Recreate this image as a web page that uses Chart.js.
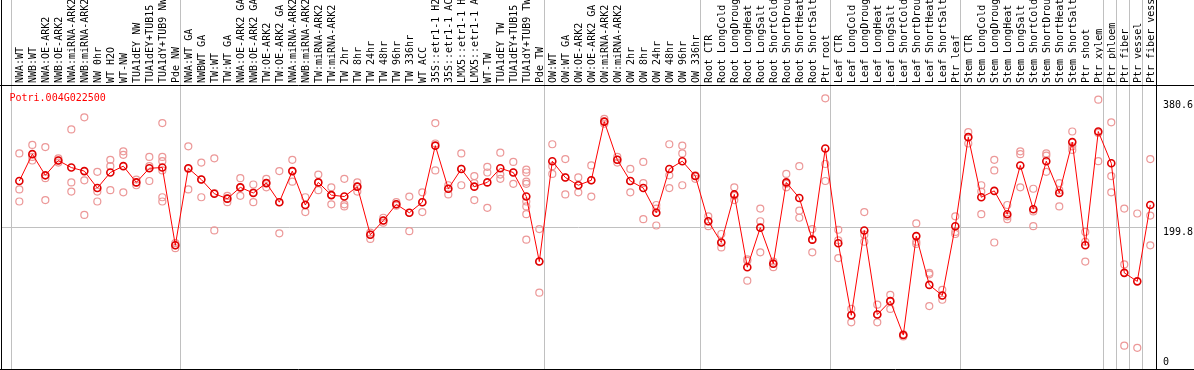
<!DOCTYPE html>
<html>
<head>
<meta charset="utf-8">
<script src="https://cdn.jsdelivr.net/npm/chart.js@4/dist/chart.umd.min.js"></script>
<style>
  html, body { margin: 0; padding: 0; background: #fff; }
  #wrap { width: 1194px; height: 370px; }
</style>
</head>
<body>
<div id="wrap"><canvas id="exprChart" width="1194" height="370"></canvas></div>
<script>
// Datos del gráfico
const geneName = 'Potri.004G022500';

const sampleLabels = [
  'NWA:WT', 'NWB:WT', 'NWA:OE-ARK2', 'NWB:OE-ARK2', 'NWA:miRNA-ARK2', 'NWB:miRNA-ARK2', 'NW 0hr', 'WT H2O', 'WT-NW',
  'TUA1dEY NW', 'TUA1dEY+TUB15', 'TUA1dY+TUB9 NW', 'Pde NW',
  'NWA:WT GA', 'NWBWT GA', 'TW:WT', 'TW:WT GA', 'NWA:OE-ARK2 GA', 'NWB:OE-ARK2 GA', 'TW:OE-ARK2', 'TW:OE-ARK2 GA',
  'NWA:miRNA-ARK2', 'NWB:miRNA-ARK2', 'TW:miRNA-ARK2', 'TW:miRNA-ARK2', 'TW 2hr', 'TW 8hr', 'TW 24hr', 'TW 48hr',
  'TW 96hr', 'TW 336hr', 'WT ACC', '35S::etr1-1 H2O', '35S::etr1-1 ACC', 'LMX5::etr1-1 H2O', 'LMX5::etr1-1 ACC',
  'WT-TW', 'TUA1dEY TW', 'TUA1dEY+TUB15', 'TUA1dY+TUB9 TW', 'Pde TW',
  'OW:WT', 'OW:WT GA', 'OW:OE-ARK2', 'OW:OE-ARK2 GA', 'OW:miRNA-ARK2', 'OW:miRNA-ARK2', 'OW 2hr', 'OW 8hr',
  'OW 24hr', 'OW 48hr', 'OW 96hr', 'OW 336hr',
  'Root CTR', 'Root LongCold', 'Root LongDrought', 'Root LongHeat', 'Root LongSalt', 'Root ShortCold',
  'Root ShortDrought', 'Root ShortHeat', 'Root ShortSalt', 'Ptr root',
  'Leaf CTR', 'Leaf LongCold', 'Leaf LongDrought', 'Leaf LongHeat', 'Leaf LongSalt', 'Leaf ShortCold',
  'Leaf ShortDrought', 'Leaf ShortHeat', 'Leaf ShortSalt', 'Ptr leaf',
  'Stem CTR', 'Stem LongCold', 'Stem LongDrought', 'Stem LongHeat', 'Stem LongSalt', 'Stem ShortCold',
  'Stem ShortDrought', 'Stem ShortHeat', 'Stem ShortSalt', 'Ptr shoot',
  'Ptr xylem', 'Ptr phloem', 'Ptr fiber', 'Ptr vessel', 'Ptr fiber vessel'
];

// Primer índice de cada grupo (líneas grises)
const groupStarts = [0, 13, 41, 53, 63, 73, 84, 85, 86, 87];

// Media por muestra (línea roja)
const meanValues = [
  266, 304, 274, 295, 285, 280, 256, 278, 287, 264, 284, 285, 175,
  284, 268, 248, 241, 257, 249, 263, 236, 280, 232, 264, 246, 244, 258, 190, 210, 233, 221, 236,
  316, 255, 283, 258, 264, 284, 278, 244, 152,
  294, 271, 260, 267, 350, 296, 266, 256, 221, 283, 294, 273,
  209, 179, 247, 144, 200, 149, 264, 242, 183, 312,
  178, 76, 196, 77, 96, 48, 188, 119, 104, 202,
  328, 243, 252, 219, 288, 226, 294, 249, 321, 175,
  336, 291, 136, 124, 232
];

// Réplicas por muestra (círculos rosados)
const replicateValues = [
  [305, 254, 237], [317, 300, 295], [314, 270, 239], [298, 295, 292], [339, 264, 251],
  [356, 267, 218], [279, 251, 237], [296, 287, 253], [308, 303, 250], [268, 264, 260],
  [300, 287, 266], [348, 300, 294, 281, 243, 237], [178, 175, 171],
  [315, 283, 254], [292, 268, 243], [298, 249, 196], [245, 241, 236], [270, 257, 245],
  [261, 250, 236], [269, 263, 257], [280, 236, 192], [296, 280, 265], [243, 232, 222],
  [275, 264, 253], [257, 246, 233], [269, 233, 230], [264, 258, 251], [193, 190, 184],
  [214, 210, 207], [236, 233, 231], [244, 221, 195], [250, 236, 222], [348, 319, 281],
  [260, 255, 247], [305, 283, 260], [273, 263, 239], [286, 278, 228], [306, 275, 269],
  [293, 278, 262], [282, 278, 265, 262, 237, 230, 219, 183], [198, 152, 108],
  [318, 287, 276], [297, 271, 247], [271, 260, 250], [288, 267, 244], [354, 350, 347],
  [300, 296, 292], [283, 266, 250], [293, 263, 212], [232, 227, 203], [318, 274, 256],
  [316, 305, 260], [274, 273, 269],
  [216, 209, 202], [191, 179, 172], [257, 245, 239], [153, 155, 125], [227, 209, 165],
  [152, 149, 144], [276, 262, 257], [287, 224, 214], [198, 183, 165], [383, 290, 266],
  [197, 182, 157], [85, 76, 66], [222, 190, 180], [91, 77, 66], [105, 96, 85],
  [49, 48, 46], [206, 180, 177], [136, 134, 89], [112, 104, 98], [216, 194, 191],
  [335, 328, 319], [260, 251, 219], [296, 281, 179], [232, 216, 212], [308, 304, 257],
  [255, 223, 202], [305, 302, 279], [263, 253, 230], [336, 315, 310], [194, 180, 152],
  [381, 334, 294], [349, 273, 250], [227, 148, 33], [220, 30], [297, 217, 175]
];

const yTickValues = [0, 199.8, 380.6];

const monoFont = { family: 'DejaVu Sans Mono', size: 10 };

// Plugin: marco negro, separadores de grupo y nombre del gen
const framePlugin = {
    id: 'framePlugin',
    beforeDatasetsDraw(chart) {
        const { ctx, chartArea, scales } = chart;
        ctx.save();
        ctx.strokeStyle = '#c0c0c0';
        ctx.lineWidth = 1;
        groupStarts.forEach(function (g) {
            const x = Math.round(scales.x.getPixelForValue(g - 0.64)) + 0.5;
            ctx.beginPath();
            ctx.moveTo(x, 0);
            ctx.lineTo(x, chartArea.bottom);
            ctx.stroke();
        });
        ctx.restore();
    },
    afterDraw(chart) {
        const { ctx, chartArea, width, height } = chart;
        ctx.save();
        ctx.strokeStyle = '#000';
        ctx.lineWidth = 1;
        ctx.beginPath();
        ctx.moveTo(chartArea.left + 0.5, 0);
        ctx.lineTo(chartArea.left + 0.5, height);
        ctx.moveTo(chartArea.right + 0.5, 0);
        ctx.lineTo(chartArea.right + 0.5, chartArea.bottom);
        ctx.moveTo(0, chartArea.top + 0.5);
        ctx.lineTo(width, chartArea.top + 0.5);
        ctx.moveTo(0, chartArea.bottom + 0.5);
        ctx.lineTo(width, chartArea.bottom + 0.5);
        ctx.stroke();

        // Nombre del gen
        ctx.fillStyle = '#ff0000';
        ctx.font = '10px "DejaVu Sans Mono"';
        ctx.textBaseline = 'alphabetic';
        ctx.textAlign = 'left';
        ctx.fillText(geneName, 9.5, 100.5);
        ctx.restore();
    }
};

function createChart() {
    const ctx = document.getElementById('exprChart').getContext('2d');

    const meanPoints = meanValues.map(function (v, i) { return { x: i, y: v }; });
    const repPoints = [];
    replicateValues.forEach(function (reps, i) {
        reps.forEach(function (v) { repPoints.push({ x: i, y: v }); });
    });

    new Chart(ctx, {
        data: {
            datasets: [{
                type: 'line',
                label: 'mean',
                data: meanPoints,
                borderColor: '#ff0000',
                borderWidth: 1,
                pointRadius: 3.5,
                pointBorderWidth: 1.6,
                pointBorderColor: '#e00000',
                pointBackgroundColor: 'rgba(0,0,0,0)',
                tension: 0
            }, {
                type: 'scatter',
                label: 'replicates',
                data: repPoints,
                pointRadius: 3.5,
                pointBorderWidth: 1.2,
                pointBorderColor: '#ec9898',
                pointBackgroundColor: 'rgba(0,0,0,0)'
            }]
        },
        options: {
            responsive: false,
            animation: false,
            devicePixelRatio: 1,
            layout: { autoPadding: false, padding: { left: 1, right: 0, top: 0, bottom: 1 } },
            plugins: {
                legend: { display: false },
                tooltip: { enabled: false }
            },
            scales: {
                x: {
                    type: 'linear',
                    position: 'top',
                    min: -1.41,
                    max: 87.44,
                    afterBuildTicks: function (axis) {
                        axis.ticks = sampleLabels.map(function (_, i) { return { value: i }; });
                    },
                    afterFit: function (axis) {
                        axis.height = 85;
                        axis.paddingLeft = 0;
                        axis.paddingRight = 0;
                    },
                    ticks: {
                        autoSkip: false,
                        minRotation: 90,
                        maxRotation: 90,
                        padding: 2,
                        labelOffset: 13,
                        color: '#000',
                        font: monoFont,
                        callback: function (value) { return sampleLabels[value]; }
                    },
                    grid: { display: false, drawTicks: false },
                    border: { display: false }
                },
                y: {
                    type: 'linear',
                    position: 'right',
                    min: 0,
                    max: 401.8,
                    afterBuildTicks: function (axis) {
                        axis.ticks = yTickValues.map(function (v) { return { value: v }; });
                    },
                    afterFit: function (axis) {
                        axis.width = 38;
                        axis.paddingTop = 0;
                        axis.paddingBottom = 0;
                    },
                    ticks: {
                        padding: 7,
                        labelOffset: 5,
                        color: '#000',
                        font: monoFont,
                        // la etiqueta 0 se dibuja por encima del borde inferior
                        callback: function (value) {
                            return value === 0 ? ['0', '', ''] : String(value);
                        }
                    },
                    grid: {
                        drawTicks: false,
                        color: function (c) { return c.tick && c.tick.value === 199.8 ? '#c0c0c0' : 'rgba(0,0,0,0)'; }
                    },
                    border: { display: false }
                }
            }
        },
        plugins: [framePlugin]
    });
}

document.addEventListener('DOMContentLoaded', function () {
    createChart();
});
</script>
</body>
</html>
